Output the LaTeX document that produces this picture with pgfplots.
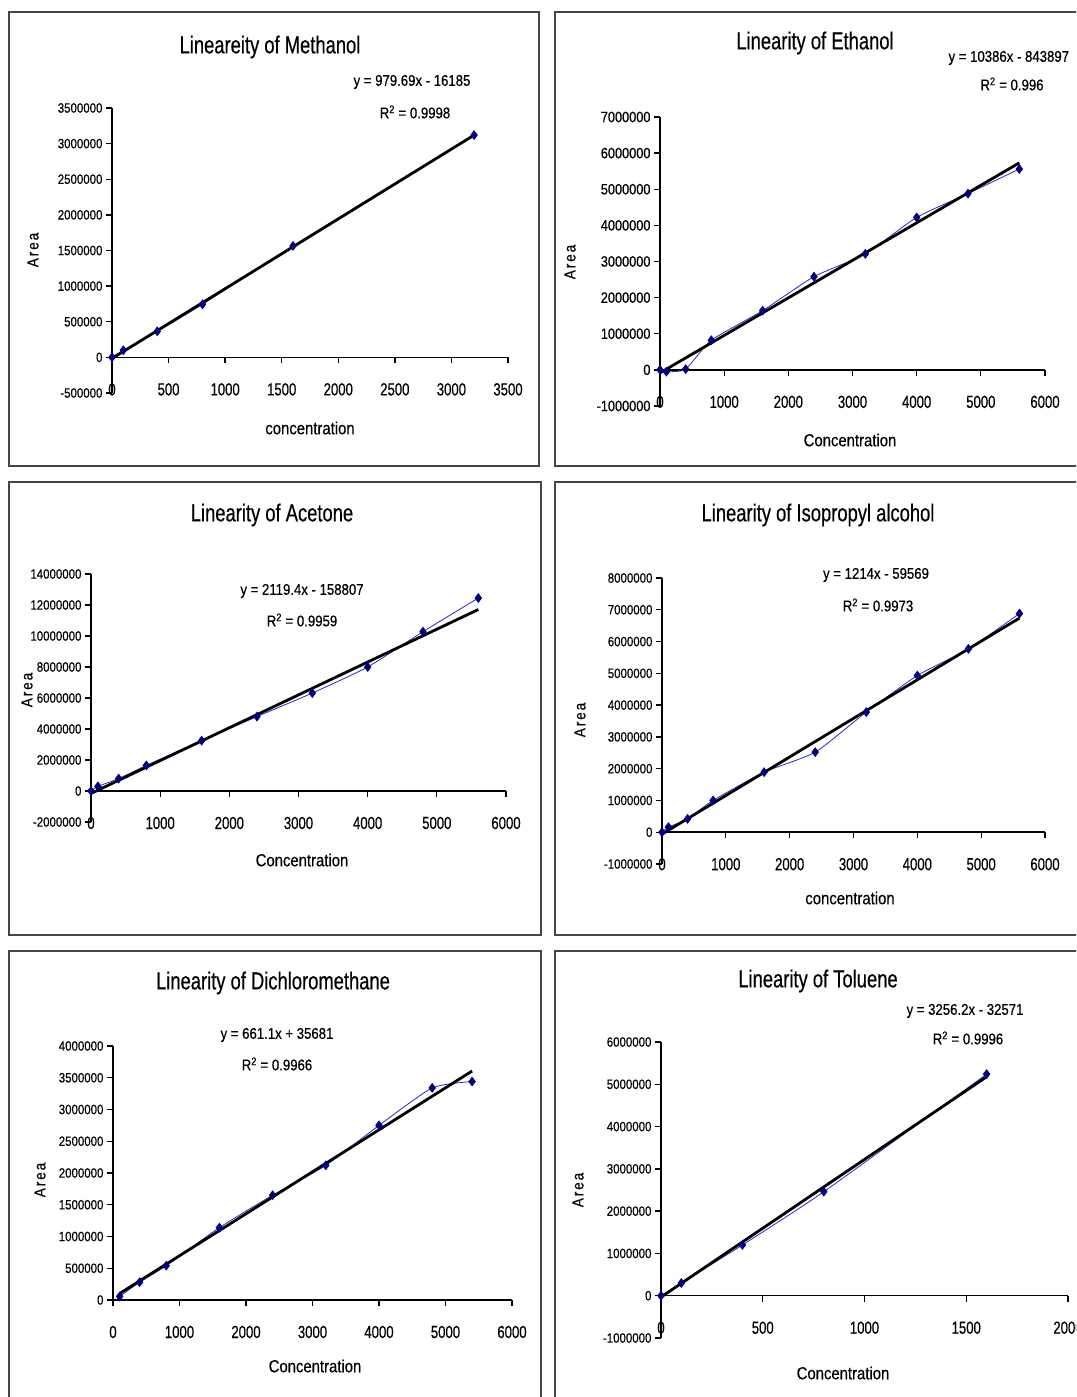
\documentclass[border=0pt]{standalone}
\usepackage{fontspec}
\setmainfont{Liberation Sans}[FakeStretch=0.85, FakeBold=0.4]
\newfontfamily\titlefont{Liberation Sans}[FakeStretch=0.75, FakeBold=0.4]
\usepackage{pgfplots}
\pgfplotsset{compat=1.18}
\definecolor{navy}{RGB}{0,0,128}
\definecolor{serblue}{RGB}{40,40,200}
\definecolor{framegray}{RGB}{70,70,70}
\newcommand{\ticksize}{\fontsize{13.5}{15}\selectfont}
\newcommand{\xticksize}{\titlefont\fontsize{17.5}{19}\selectfont}
\newcommand{\titlesize}{\titlefont\fontsize{24.5}{26}\selectfont}
\newcommand{\eqsize}{\fontsize{15.5}{17}\selectfont}
\newcommand{\labsize}{\fontsize{17.5}{19}\selectfont}
\newcommand{\arealab}{\fontsize{16}{18}\selectfont\addfontfeature{LetterSpace=12}}
\pgfplotsset{
  panel/.style={
    scale only axis, axis lines=middle, axis line style={-, black, line width=1.5pt},
    enlargelimits=false, clip=false,
    tick align=outside, major tick length=6pt, tick style={black, line width=1.3pt},
    hide obscured x ticks=false, hide obscured y ticks=false,
    xticklabel style={anchor=center, yshift=-26pt, font=\xticksize},
    yticklabel style={anchor=east, font=\ticksize},
    scaled ticks=false, anchor=south west,
  },
  ser/.style={color=serblue, line width=0.8pt, smooth, tension=0.35, mark=diamond*, mark size=4.3pt, mark options={fill=navy, draw=navy, solid}},
  trend/.style={black, line width=2.8pt, no marks},
}
\begin{document}
\begin{tikzpicture}[x=1pt,y=1pt]
\path[use as bounding box, clip] (0,0) rectangle (1076,1397);
\fill[white] (0,0) rectangle (1076,1397);
% frames
\draw[framegray, line width=2pt] (9,1385) rectangle (539,931);
\draw[framegray, line width=2pt] (555,1385) rectangle (1090,931);
\draw[framegray, line width=2pt] (9,915) rectangle (541,462);
\draw[framegray, line width=2pt] (555,915) rectangle (1090,462);
\draw[framegray, line width=2pt] (9,446) rectangle (541,-13);
\draw[framegray, line width=2pt] (555,446) rectangle (1090,-13);

% ---------- Methanol ----------
\begin{axis}[panel, at={(112pt,1004pt)}, width=396pt, height=285pt,
  xmin=0, xmax=3500, ymin=-500000, ymax=3500000,
  xtick={0,500,1000,1500,2000,2500,3000,3500},
  xticklabels={0,500,1000,1500,2000,2500,3000,3500},
  ytick={-500000,0,500000,1000000,1500000,2000000,2500000,3000000,3500000},
  yticklabels={-500000,0,500000,1000000,1500000,2000000,2500000,3000000,3500000}]
\addplot[ser] coordinates {(0,0) (100,100000) (400,365000) (800,745000) (1600,1565000) (3200,3120000)};
\addplot[trend] coordinates {(0,-16185) (3200,3118823)};
\end{axis}
\node[font=\titlesize] at (270,1350) {Lineareity of Methanol};
\node[font=\eqsize] at (412,1315) {y = 979.69x - 16185};
\node[font=\eqsize] at (415,1285) {R\textsuperscript{2} = 0.9998};
\node[font=\labsize] at (310,969) {concentration};
\node[font=\arealab, rotate=90] at (33,1147) {Area};

% ---------- Ethanol ----------
\begin{axis}[panel, at={(660pt,991pt)}, width=385pt, height=289pt,
  xmin=0, xmax=6000, ymin=-1000000, ymax=7000000,
  yticklabel style={font=\fontsize{15}{17}\selectfont},
  xtick={0,1000,2000,3000,4000,5000,6000},
  xticklabels={0,1000,2000,3000,4000,5000,6000},
  ytick={-1000000,0,1000000,2000000,3000000,4000000,5000000,6000000,7000000},
  yticklabels={-1000000,0,1000000,2000000,3000000,4000000,5000000,6000000,7000000}]
\addplot[ser] coordinates {(0,0) (100,-50000) (400,20000) (800,820000) (1600,1640000) (2400,2580000) (3200,3210000) (4000,4220000) (4800,4880000) (5600,5560000)};
\addplot[trend] coordinates {(0,-84390) (5600,5731770)};
\end{axis}
\node[font=\titlesize] at (815,1354) {Linearity of Ethanol};
\node[font=\eqsize, anchor=west] at (945,1339) {y = 10386x - 843897};
\node[font=\eqsize] at (1012,1313) {R\textsuperscript{2} = 0.996};
\node[font=\labsize] at (850,957) {Concentration};
\node[font=\arealab, rotate=90] at (570,1135) {Area};

% ---------- Acetone ----------
\begin{axis}[panel, at={(91pt,575pt)}, width=415pt, height=248pt,
  xmin=0, xmax=6000, ymin=-2000000, ymax=14000000,
  xtick={0,1000,2000,3000,4000,5000,6000},
  xticklabels={0,1000,2000,3000,4000,5000,6000},
  ytick={-2000000,0,2000000,4000000,6000000,8000000,10000000,12000000,14000000},
  yticklabels={-2000000,0,2000000,4000000,6000000,8000000,10000000,12000000,14000000}]
\addplot[ser] coordinates {(0,0) (100,300000) (400,800000) (800,1650000) (1600,3250000) (2400,4800000) (3200,6320000) (4000,8000000) (4800,10280000) (5600,12450000)};
\addplot[trend] coordinates {(0,-158807) (5600,11709833)};
\end{axis}
\node[font=\titlesize] at (272,882) {Linearity of Acetone};
\node[font=\eqsize] at (302,806) {y = 2119.4x - 158807};
\node[font=\eqsize] at (302,777) {R\textsuperscript{2} = 0.9959};
\node[font=\labsize] at (302,537) {Concentration};
\node[font=\arealab, rotate=90] at (27,707) {Area};

% ---------- Isopropyl alcohol ----------
\begin{axis}[panel, at={(662pt,533pt)}, width=383pt, height=286pt,
  xmin=0, xmax=6000, ymin=-1000000, ymax=8000000,
  xtick={0,1000,2000,3000,4000,5000,6000},
  xticklabels={0,1000,2000,3000,4000,5000,6000},
  ytick={-1000000,0,1000000,2000000,3000000,4000000,5000000,6000000,7000000,8000000},
  yticklabels={-1000000,0,1000000,2000000,3000000,4000000,5000000,6000000,7000000,8000000}]
\addplot[ser] coordinates {(0,0) (100,160000) (400,420000) (800,1000000) (1600,1890000) (2400,2520000) (3200,3780000) (4000,4930000) (4800,5770000) (5600,6880000)};
\addplot[trend] coordinates {(0,-59569) (5600,6738831)};
\end{axis}
\node[font=\titlesize] at (818,882) {Linearity of Isopropyl alcohol};
\node[font=\eqsize] at (876,822) {y = 1214x - 59569};
\node[font=\eqsize] at (878,792) {R\textsuperscript{2} = 0.9973};
\node[font=\labsize] at (850,499) {concentration};
\node[font=\arealab, rotate=90] at (580,677) {Area};

% ---------- Dichloromethane ----------
\begin{axis}[panel, at={(113pt,97pt)}, width=399pt, height=254pt,
  xmin=0, xmax=6000, ymin=0, ymax=4000000,
  xtick={0,1000,2000,3000,4000,5000,6000},
  xticklabels={0,1000,2000,3000,4000,5000,6000},
  ytick={0,500000,1000000,1500000,2000000,2500000,3000000,3500000,4000000},
  yticklabels={0,500000,1000000,1500000,2000000,2500000,3000000,3500000,4000000}]
\addplot[ser] coordinates {(100,55000) (400,280000) (800,540000) (1600,1140000) (2400,1650000) (3200,2120000) (4000,2750000) (4800,3340000) (5400,3440000)};
\addplot[trend] coordinates {(100,101791) (5400,3605621)};
\end{axis}
\node[font=\titlesize] at (273,414) {Linearity of Dichloromethane};
\node[font=\eqsize] at (277,362) {y = 661.1x + 35681};
\node[font=\eqsize] at (277,333) {R\textsuperscript{2} = 0.9966};
\node[font=\labsize] at (315,31) {Concentration};
\node[font=\arealab, rotate=90] at (40,217) {Area};

% ---------- Toluene ----------
\begin{axis}[panel, at={(661pt,59pt)}, width=407pt, height=296pt,
  xmin=0, xmax=2000, ymin=-1000000, ymax=6000000,
  xtick={0,500,1000,1500,2000},
  xticklabels={0,500,1000,1500,2000},
  ytick={-1000000,0,1000000,2000000,3000000,4000000,5000000,6000000},
  yticklabels={-1000000,0,1000000,2000000,3000000,4000000,5000000,6000000}]
\addplot[ser] coordinates {(0,0) (100,300000) (400,1200000) (800,2460000) (1600,5240000)};
\addplot[trend] coordinates {(0,-32571) (1600,5177349)};
\end{axis}
\node[font=\titlesize] at (818,416) {Linearity of Toluene};
\node[font=\eqsize] at (965,386) {y = 3256.2x - 32571};
\node[font=\eqsize] at (968,359) {R\textsuperscript{2} = 0.9996};
\node[font=\labsize] at (843,24) {Concentration};
\node[font=\arealab, rotate=90] at (578,207) {Area};
\end{tikzpicture}
\end{document}
